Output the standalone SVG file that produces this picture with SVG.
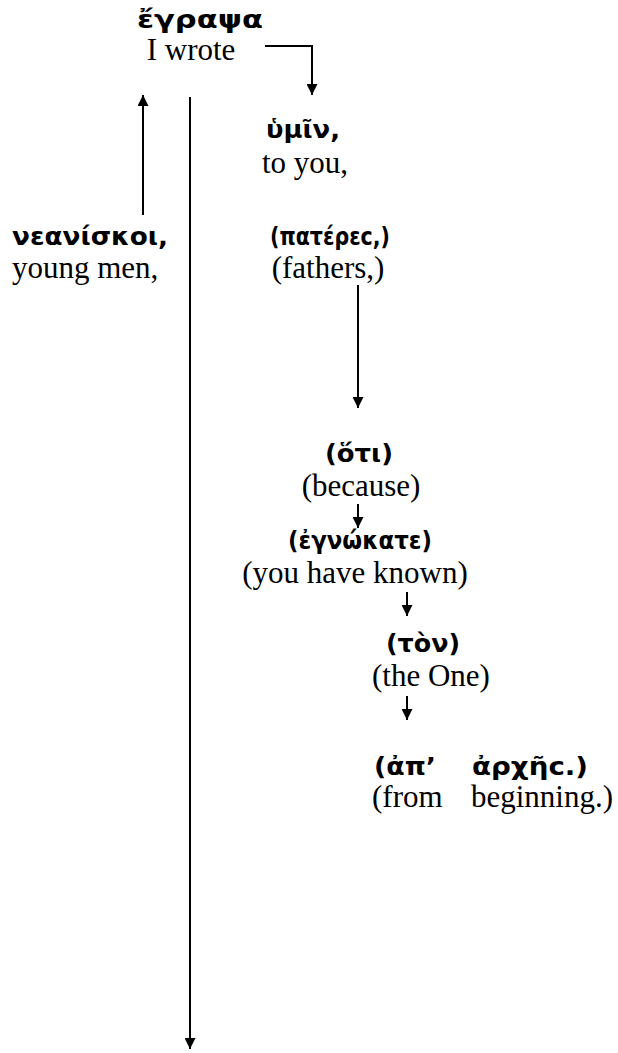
<svg xmlns="http://www.w3.org/2000/svg" width="618" height="1053" viewBox="0 0 618 1053">
<style>
.gk{font-family:"DejaVu Sans","Noto Sans",sans-serif;font-weight:bold;font-size:24px;fill:#000}
.en{font-family:"Liberation Serif","Times New Roman",serif;font-size:31px;fill:#000}
.m{text-anchor:middle}
.ln{stroke:#000;stroke-width:2;fill:none}
</style>
<defs>
<marker id="ah" viewBox="0 0 10 10" refX="10" refY="5" markerWidth="6" markerHeight="5.5" orient="auto" markerUnits="strokeWidth">
<path d="M0,0 L10,5 L0,10 Z" fill="#000"/>
</marker>
</defs>
<g id="connectors">
<path class="ln" d="M265,46 H312 V95" marker-end="url(#ah)"/>
<path class="ln" d="M143,215 V95" marker-end="url(#ah)"/>
<path class="ln" d="M190,97 V1049" marker-end="url(#ah)"/>
<path class="ln" d="M358,285 V408" marker-end="url(#ah)"/>
<path class="ln" d="M358,504 V528" marker-end="url(#ah)"/>
<path class="ln" d="M407,592 V616" marker-end="url(#ah)"/>
<path class="ln" d="M407,696 V720" marker-end="url(#ah)"/>
</g>
<g id="n-egrapsa">
<text class="gk" x="137" y="28" textLength="126" lengthAdjust="spacingAndGlyphs">ἔγραψα</text>
<text class="en m" x="191" y="60">I wrote</text>
</g>
<g id="n-hymin">
<text class="gk" x="266" y="138" textLength="74" lengthAdjust="spacingAndGlyphs">ὑμῖν,</text>
<text class="en m" x="305" y="173">to you,</text>
</g>
<g id="n-neaniskoi">
<text class="gk" x="12" y="245" textLength="156" lengthAdjust="spacingAndGlyphs">νεανίσκοι,</text>
<text class="en" x="12" y="278">young men,</text>
</g>
<g id="n-pateres">
<text class="gk" x="270" y="245" textLength="120" lengthAdjust="spacingAndGlyphs">(πατέρεϲ,)</text>
<text class="en m" x="328" y="278">(fathers,)</text>
</g>
<g id="n-hoti">
<text class="gk" x="325" y="462" textLength="68" lengthAdjust="spacingAndGlyphs">(ὅτι)</text>
<text class="en m" x="361" y="496">(because)</text>
</g>
<g id="n-egnokate">
<text class="gk" x="288" y="549" textLength="144" lengthAdjust="spacingAndGlyphs">(ἐγνώκατε)</text>
<text class="en m" x="355" y="583">(you have known)</text>
</g>
<g id="n-ton">
<text class="gk" x="386" y="652" textLength="74" lengthAdjust="spacingAndGlyphs">(τὸν)</text>
<text class="en m" x="431" y="686">(the One)</text>
</g>
<g id="n-aparches">
<text class="gk" x="374" y="775" textLength="62" lengthAdjust="spacingAndGlyphs">(ἀπ’</text>
<text class="gk" x="472" y="775" textLength="116" lengthAdjust="spacingAndGlyphs">ἀρχῆϲ.)</text>
<text class="en" x="372" y="807">(from</text>
<text class="en" x="613" y="807" text-anchor="end">beginning.)</text>
</g>
</svg>
